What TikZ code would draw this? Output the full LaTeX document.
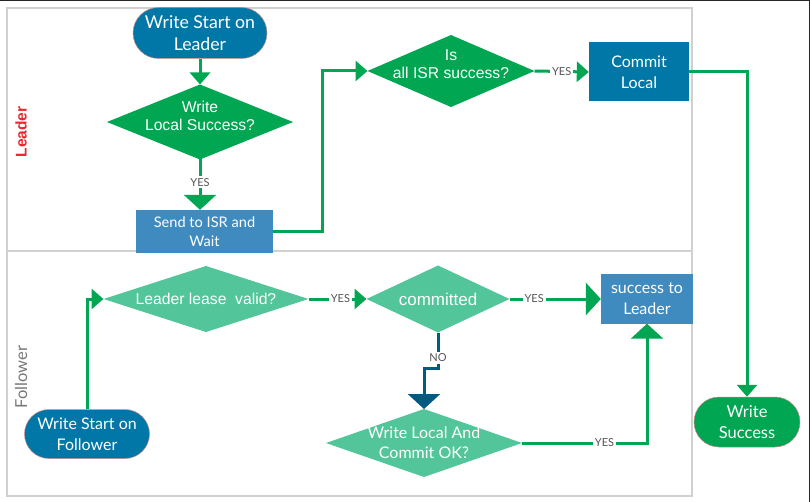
\documentclass[tikz,border=0pt]{standalone}
\usepackage{fontspec}
\setmainfont{Lato}
\newfontfamily\arialf{Liberation Sans}
\usetikzlibrary{shapes.geometric,shapes.misc,arrows.meta,positioning}
\definecolor{dkblue}{HTML}{0077A6}
\definecolor{mdblue}{HTML}{3F8BC0}
\definecolor{fgreen}{HTML}{00A651}
\definecolor{lgreen}{HTML}{52C59A}
\definecolor{noblue}{HTML}{005A82}
\definecolor{framegray}{HTML}{D0D0D0}
\definecolor{lblgray}{HTML}{555555}
\definecolor{termedge}{HTML}{C98A8A}
\definecolor{lanered}{HTML}{E8262D}
\definecolor{lanegray}{HTML}{777777}
\tikzset{
  term/.style={rounded rectangle, fill=#1, draw=termedge, line width=0.5pt, text=white, align=center, font=\fontsize{16.5}{20.5}\selectfont, inner sep=0pt},
  pbox/.style={rectangle, fill=#1, text=white, align=center, font=\fontsize{15.5}{20.5}\selectfont, inner sep=0pt},
  dia/.style={diamond, fill=#1, inner sep=0pt, outer sep=0pt},
  dtext/.style={text=white, align=center, font=\arialf\fontsize{15.7}{18.5}\selectfont},
  conn/.style={draw=fgreen, line width=3pt, -{Triangle[width=20pt,length=12pt]}},
  bigconn/.style={draw=fgreen, line width=3pt, -{Triangle[width=32pt,length=15pt]}},
  lbl/.style={fill=white, text=lblgray, font=\fontsize{11}{12}\selectfont, inner sep=2pt},
}
\begin{document}
\begin{tikzpicture}[x=1pt,y=-1pt]
\useasboundingbox (0,0) rectangle (810,502);
% frames
\draw[framegray, line width=1.5pt] (7,8) rectangle (692,496);
\draw[framegray, line width=1.5pt] (7,251) -- (692,251);
\draw[black!85, line width=1.5pt] (0,0.75) -- (810,0.75);
\draw[black!85, line width=1.5pt] (809.25,0) -- (809.25,502);
% lane labels
\node[rotate=90, font=\arialf\bfseries\fontsize{15.5}{17}\selectfont, text=lanered] (laneL) at (21,132) {Leader};
\node[rotate=90, font=\fontsize{16.5}{18}\selectfont, text=lanegray] (laneF) at (21,377) {Follower};
% leader nodes
\node[term=dkblue, minimum width=134pt, minimum height=51pt, font=\fontsize{17.7}{22}\selectfont] (ls) at (200,33) {Write Start on\\Leader};
\node[dia=fgreen, minimum width=186pt, minimum height=75pt, label={[dtext, yshift=6pt]center:Write\\Local Success?}] (d1) at (200,122) {};
\node[pbox=mdblue, minimum width=137pt, minimum height=43pt, font=\fontsize{14.6}{19.5}\selectfont] (send) at (204.5,231.5) {Send to ISR and\\Wait};
\node[dia=fgreen, minimum width=167pt, minimum height=72pt, label={[dtext, yshift=7pt]center:Is\\all ISR success?}] (d2) at (451,71) {};
\node[pbox=dkblue, minimum width=100pt, minimum height=59pt, font=\fontsize{16}{21}\selectfont] (commit) at (639,72) {Commit\\Local};
\node[term=fgreen, minimum width=106pt, minimum height=50pt] (ws) at (747,422) {Write\\Success};
% follower nodes
\node[dia=lgreen, minimum width=205pt, minimum height=66pt, label={[dtext]center:Leader lease\ \ valid?}] (d3) at (206,299) {};
\node[term=dkblue, minimum width=125pt, minimum height=49pt, font=\fontsize{16}{20.5}\selectfont] (wsf) at (87,434) {Write Start on\\Follower};
\node[dia=lgreen, minimum width=143pt, minimum height=67pt, label={[dtext, font=\arialf\fontsize{17}{19}\selectfont]center:committed}] (d4) at (438,299) {};
\node[pbox=mdblue, minimum width=92pt, minimum height=49pt, font=\fontsize{16}{21}\selectfont] (stl) at (647,299) {success to\\Leader};
\node[dia=lgreen, minimum width=196pt, minimum height=68pt, label={[text=white, align=center, font=\fontsize{16}{20}\selectfont]center:Write Local And\\Commit OK?}] (d5) at (424,443) {};
% connectors
\draw[conn] (ls.south) -- (d1.north);
\draw[bigconn] (d1.south) -- node[lbl, pos=0.45]{YES} (d1.south |- send.north);
\draw[conn] (send.east) -- ++(49,0) |- (d2.west);
\draw[conn] (d2.east) -- node[lbl, pos=0.5]{YES} (commit.west);
\draw[conn] (commit.east) -| (ws.north);
\draw[conn] (wsf.north) |- (d3.west);
\draw[conn] (d3.east) -- node[lbl, pos=0.55]{YES} (d4.west);
\draw[bigconn] (d4.east) -- node[lbl, pos=0.27]{YES} (stl.west);
\draw[draw=noblue, line width=3pt, -{Triangle[width=32pt,length=15pt]}] (d4.south) -- node[lbl, pos=0.7]{NO} ++(0,36) -| (d5.north);
\draw[bigconn] (d5.east) -| node[lbl, pos=0.33]{YES} (stl.south);
\end{tikzpicture}
\end{document}
